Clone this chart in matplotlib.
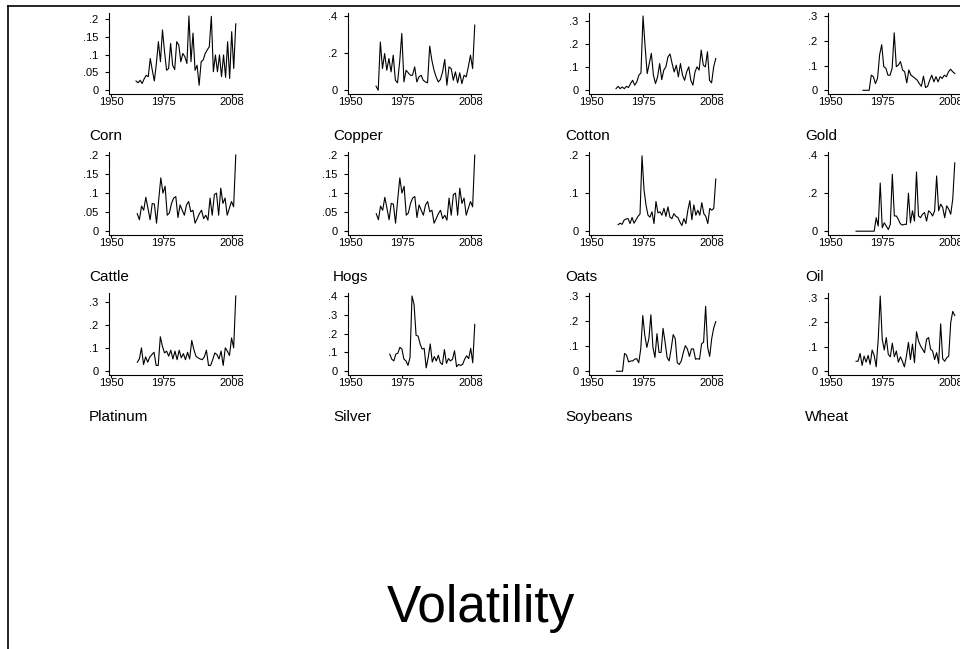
import matplotlib
matplotlib.use("Agg")
import matplotlib.pyplot as plt
from matplotlib.lines import Line2D

plt.rcParams['font.family'] = ['Liberation Sans', 'DejaVu Sans']

# ---------------- data ----------------
corn_vals = [.026, .021, .028, .019, .032, .042, .038, .089, .056, .026, .075, .136, .080, .169,
             .108, .056, .061, .131, .070, .058, .136, .127, .080, .103, .094, .075, .208, .080,
             .160, .056, .070, .014, .080, .085, .103, .113, .122, .207, .052, .099, .052, .099,
             .038, .099, .036, .136, .033, .164, .061, .186]
copper_vals = [.022, .000, .260, .117, .198, .108, .171, .099, .189, .054, .040, .153, .306, .045,
               .108, .094, .081, .081, .126, .045, .072, .081, .054, .045, .040, .238, .162, .108,
               .072, .045, .058, .099, .166, .027, .126, .117, .054, .099, .040, .094, .036, .081,
               .072, .126, .189, .117, .351]
cotton_vals = [.007, .017, .007, .014, .007, .017, .012, .029, .043, .022, .036, .065, .075, .320,
               .188, .072, .115, .159, .065, .029, .058, .115, .046, .087, .101, .144, .156, .115,
               .079, .108, .058, .115, .065, .043, .079, .101, .043, .022, .079, .101, .087, .173,
               .108, .101, .166, .043, .032, .101, .137]
gold_vals = [.000, .000, .000, .000, .061, .055, .027, .048, .143, .184, .095, .089, .061, .061,
             .089, .232, .095, .102, .116, .082, .075, .030, .082, .061, .055, .048, .041, .027,
             .016, .057, .011, .016, .041, .061, .034, .055, .034, .055, .048, .061, .055, .075,
             .085, .075, .068]
cattle_vals = [.046, .030, .066, .055, .089, .060, .030, .073, .071, .021, .082, .140, .100, .118,
               .042, .048, .073, .087, .091, .036, .069, .055, .042, .069, .078, .051, .055, .021,
               .033, .046, .055, .033, .042, .029, .087, .042, .096, .100, .042, .113, .073, .087,
               .042, .060, .078, .064, .200]
hogs_vals = [.046, .030, .066, .055, .089, .060, .030, .073, .071, .021, .082, .140, .100, .118,
             .042, .048, .073, .087, .091, .036, .069, .055, .042, .069, .078, .051, .055, .021,
             .033, .046, .055, .033, .042, .029, .087, .042, .096, .100, .042, .113, .073, .087,
             .042, .060, .078, .064, .200]
oats_vals = [.017, .021, .018, .029, .032, .033, .020, .036, .021, .030, .039, .045, .198, .109,
             .069, .042, .037, .051, .020, .078, .048, .051, .042, .060, .039, .064, .037, .033,
             .046, .039, .036, .024, .015, .033, .020, .055, .080, .030, .069, .042, .055, .042,
             .075, .046, .039, .020, .060, .055, .060, .137]
oil_vals = [.000, .000, .000, .000, .000, .000, .000, .000, .000, .000, .071, .027, .253, .018,
            .044, .027, .009, .036, .299, .080, .080, .062, .039, .032, .036, .036, .200, .044,
            .107, .053, .311, .080, .071, .089, .098, .053, .107, .098, .080, .107, .290, .107,
            .142, .125, .071, .133, .116, .089, .169, .359]
platinum_vals = [.039, .053, .101, .029, .062, .039, .062, .072, .082, .025, .025, .149, .108,
                 .079, .087, .065, .091, .053, .087, .050, .091, .058, .076, .050, .082, .053,
                 .133, .094, .065, .058, .053, .050, .062, .091, .025, .025, .050, .079, .072,
                 .053, .087, .025, .101, .087, .068, .144, .101, .325]
silver_vals = [.091, .064, .055, .091, .096, .127, .118, .064, .055, .031, .073, .400, .355, .191,
               .187, .145, .118, .122, .018, .073, .145, .049, .078, .055, .085, .045, .036, .115,
               .042, .067, .055, .064, .109, .024, .036, .031, .036, .064, .082, .067, .122, .045,
               .249]
soybeans_vals = [.000, .000, .000, .000, .071, .064, .037, .041, .041, .048, .050, .034, .089,
                 .222, .143, .095, .130, .225, .095, .055, .150, .075, .075, .171, .116, .055,
                 .041, .089, .146, .130, .034, .027, .041, .075, .102, .089, .059, .089, .089,
                 .048, .050, .048, .109, .116, .259, .095, .059, .130, .173, .198]
wheat_vals = [.041, .041, .073, .024, .062, .037, .065, .028, .087, .065, .018, .131, .308, .131,
              .087, .138, .069, .059, .115, .059, .083, .037, .059, .041, .018, .062, .118, .048,
              .111, .035, .162, .124, .104, .090, .076, .131, .138, .090, .083, .048, .076, .032,
              .194, .051, .041, .055, .062, .200, .245, .228]

# first and last year of each series
start_years = {
    "Corn": 1962.0, "Copper": 1962.5, "Cotton": 1962.0, "Gold": 1965.8,
    "Cattle": 1962.6, "Hogs": 1962.6, "Oats": 1963.0, "Oil": 1962.5,
    "Platinum": 1962.6, "Silver": 1969.1, "Soybeans": 1962.2, "Wheat": 1962.5,
}
end_year = 2010.0

names = ["Corn", "Copper", "Cotton", "Gold",
         "Cattle", "Hogs", "Oats", "Oil",
         "Platinum", "Silver", "Soybeans", "Wheat"]
series = [corn_vals, copper_vals, cotton_vals, gold_vals,
          cattle_vals, hogs_vals, oats_vals, oil_vals,
          platinum_vals, silver_vals, soybeans_vals, wheat_vals]
yticks = [[0, .05, .1, .15, .2], [0, .2, .4], [0, .1, .2, .3], [0, .1, .2, .3],
          [0, .05, .1, .15, .2], [0, .05, .1, .15, .2], [0, .1, .2], [0, .2, .4],
          [0, .1, .2, .3], [0, .1, .2, .3, .4], [0, .1, .2, .3], [0, .1, .2, .3]]
xticks = [1950, 1975, 2008]


def fmt(v):
    if v == 0:
        return "0"
    s = ("%g" % v)
    return s[1:] if s.startswith("0.") else s


# ---------------- figure ----------------
W, H = 960, 649
fig = plt.figure(figsize=(W / 100, H / 100), dpi=100)

col_left = [109, 348, 589, 828]
row_top = [13, 152, 293]
row_bot = [94, 235, 375]
ax_w = 133
label_x = [89, 333, 565, 805]
label_y = [136, 277, 417]

for i, (name, vals, yt) in enumerate(zip(names, series, yticks)):
    r, c = divmod(i, 4)
    x0 = col_left[c]
    ax = fig.add_axes([x0 / W, 1 - row_bot[r] / H, ax_w / W, (row_bot[r] - row_top[r]) / H])
    n = len(vals)
    sy = start_years[name]
    step = (end_year - sy) / (n - 1)
    years = [sy + k * step for k in range(n)]
    ax.plot(years, vals, color="black", lw=0.8)
    hi = max(max(vals), max(yt))
    ax.set_ylim(-0.05 * hi, 1.04 * hi)
    ax.set_xlim(1949.0, 2013.0)
    ax.set_yticks(yt)
    ax.set_yticklabels([fmt(v) for v in yt])
    ax.set_xticks(xticks)
    ax.set_xticklabels([str(x) for x in xticks])
    for s in ["top", "right"]:
        ax.spines[s].set_visible(False)
    for s in ["left", "bottom"]:
        ax.spines[s].set_linewidth(0.8)
    ax.tick_params(axis="y", length=3, width=0.8, labelsize=8, pad=4.5, direction="out")
    ax.tick_params(axis="x", length=2, width=0.8, labelsize=8, pad=0.5, direction="out")
    fig.text(label_x[c] / W, 1 - label_y[r] / H, name, fontsize=11, ha="left", va="center")

fig.text(481 / W, 1 - 622 / H, "Volatility", fontsize=37, ha="center", va="baseline")

# frame of the (cropped) overall graph
fig.add_artist(Line2D([8 / W, 8 / W], [0, 1 - 6 / H], color="black", lw=1.2, transform=fig.transFigure))
fig.add_artist(Line2D([8 / W, 1], [1 - 6 / H, 1 - 6 / H], color="black", lw=1.2, transform=fig.transFigure))

fig.savefig("out.png", dpi=100, facecolor="white")
